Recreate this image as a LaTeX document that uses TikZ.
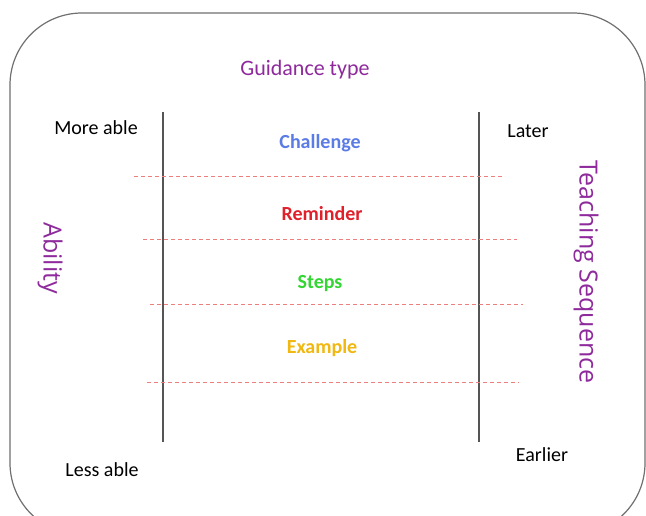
\documentclass[tikz,border=0pt]{standalone}
\usepackage{fontspec}
\setmainfont{Carlito}
\newfontfamily\sidefont{Open Sans}
\definecolor{framegray}{HTML}{707070}
\definecolor{axisgray}{HTML}{555555}
\definecolor{labelpurple}{HTML}{8E2A9C}
\definecolor{chalblue}{HTML}{5B7BE6}
\definecolor{remred}{HTML}{E0202A}
\definecolor{stepgreen}{HTML}{33D633}
\definecolor{examgold}{HTML}{F0B810}
\definecolor{dashred}{HTML}{EE7F7F}
\begin{document}
\begin{tikzpicture}[x=1pt,y=-1pt,
  plain/.style={font=\fontsize{20}{24}\selectfont, text=black, inner sep=0pt},
  level/.style={font=\bfseries\fontsize{20}{24}\selectfont, inner sep=0pt},
  heading/.style={font=\fontsize{22}{26}\selectfont, text=labelpurple, inner sep=0pt},
  sidelabel/.style={font=\sidefont\fontsize{25}{30}\selectfont, text=labelpurple, inner sep=0pt, rotate=-90},
  axis/.style={draw=axisgray, line width=1.1pt},
  divider/.style={draw=dashred, line width=0.9pt, dash pattern=on 4pt off 3pt}]
\useasboundingbox (0,0) rectangle (646,515);
\fill[white] (0,0) rectangle (646,515);
% outer frame
\draw[framegray, line width=1.2pt, rounded corners=72pt] (10,13) rectangle (645,535);
% titles
\node[heading] (guid) at (305,70) {Guidance type};
\node[sidelabel] (abil) at (50,258) {Ability};
\node[sidelabel] (teach) at (586,272) {Teaching Sequence};
% axis end labels
\node[plain] (more) at (96,128) {More able};
\node[plain] (less) at (102,470) {Less able};
\node[plain] (later) at (528,131) {Later};
\node[plain] (earl) at (542,455) {Earlier};
% vertical axes
\coordinate (la) at (163,112); \coordinate (lb) at (163,442);
\coordinate (ra) at (479,112); \coordinate (rb) at (479,442);
\draw[axis] (la) -- (lb);
\draw[axis] (ra) -- (rb);
% guidance levels
\node[level, text=chalblue] (chal) at (320,143) {Challenge};
\node[level, text=remred] (rem) at (322,214) {Reminder};
\node[level, text=stepgreen] (step1) at (320,284) {Steps};
\node[level, text=examgold] (exam) at (322,348) {Example};
% dashed dividers
\coordinate (d1a) at (134,176); \coordinate (d1b) at (505,176);
\coordinate (d2a) at (143,239); \coordinate (d2b) at (517,239);
\coordinate (d3a) at (150,304); \coordinate (d3b) at (523,304);
\coordinate (d4a) at (147,382); \coordinate (d4b) at (519,382);
\draw[divider] (d1a) -- (d1b);
\draw[divider] (d2a) -- (d2b);
\draw[divider] (d3a) -- (d3b);
\draw[divider] (d4a) -- (d4b);
\end{tikzpicture}
\end{document}
